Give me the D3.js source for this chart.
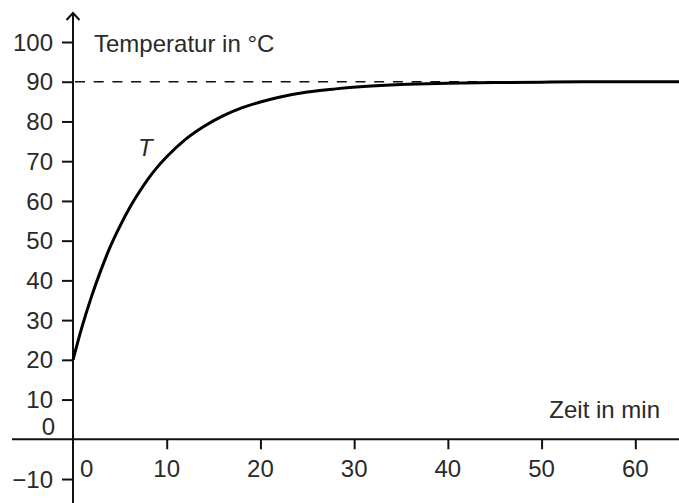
<!DOCTYPE html>
<html>
<head>
<meta charset="utf-8">
<script src="https://cdn.jsdelivr.net/npm/d3@7"></script>
<style>
  body { margin: 0; background: #fff; }
  text { font-family: "Liberation Sans", Arial, sans-serif; font-size: 24px; fill: #2a2a2a; }
</style>
</head>
<body>
<div id="graf"></div>
<script>
// Datos
const tiempos = [0, 1, 2, 3, 4, 5, 6, 7, 8, 9, 10, 12, 14, 16, 18, 20, 22, 25, 28, 31, 35, 40, 45, 50, 55, 60, 65]
const temperaturas = [20, 28.6, 36.1, 42.7, 48.6, 53.6, 58.1, 62.0, 65.5, 68.5, 71.1, 75.5, 78.8, 81.4, 83.4, 84.9, 86.1, 87.4, 88.2, 88.8, 89.3, 89.6, 89.8, 89.9, 90, 90, 90]
const ticksX = [10, 20, 30, 40, 50, 60]
const ticksY = [-10, 10, 20, 30, 40, 50, 60, 70, 80, 90, 100]
const limite = 90

const ancho = 679, alto = 503

const svg = d3.select('#graf').append('svg')
  .attr('width', ancho)
  .attr('height', alto)

// Escalas
const x = d3.scaleLinear().domain([0, 60]).range([73, 635.3])
const y = d3.scaleLinear().domain([0, 100]).range([439.3, 42])

// Linea discontinua en 90
svg.append('line')
  .attr('x1', x(0)).attr('x2', ancho)
  .attr('y1', y(limite)).attr('y2', y(limite))
  .attr('stroke', '#111').attr('stroke-width', 1.3)
  .attr('stroke-dasharray', '10,8.7')
  .attr('stroke-dashoffset', -2)

// Eje X
const ejeX = svg.append('g')
  .attr('transform', `translate(0, ${ y(0) })`)
  .call(d3.axisBottom(x).tickValues(ticksX).tickSize(10).tickFormat(''))
ejeX.select('.domain').remove()
ejeX.selectAll('line').attr('stroke', '#111').attr('stroke-width', 2)
svg.append('line')
  .attr('x1', 12).attr('x2', ancho)
  .attr('y1', y(0)).attr('y2', y(0))
  .attr('stroke', '#111').attr('stroke-width', 2)
svg.append('g').selectAll('text')
  .data(ticksX).join('text')
  .attr('x', d => x(d)).attr('y', 477)
  .attr('text-anchor', 'middle')
  .text(d => d)
svg.append('text').attr('x', 80).attr('y', 477).text('0')

// Eje Y
const ejeY = svg.append('g')
  .attr('transform', `translate(${ x(0) }, 0)`)
  .call(d3.axisLeft(y).tickValues(ticksY).tickSize(11).tickFormat(''))
ejeY.select('.domain').remove()
ejeY.selectAll('line').attr('stroke', '#111').attr('stroke-width', 2)
svg.append('line')
  .attr('x1', x(0)).attr('x2', x(0))
  .attr('y1', 13).attr('y2', alto)
  .attr('stroke', '#111').attr('stroke-width', 2)
svg.append('path')
  .attr('d', `M${ x(0) - 6.5 },${ 20 } L${ x(0) },${ 13 } L${ x(0) + 6.5 },${ 20 }`)
  .attr('fill', 'none').attr('stroke', '#111').attr('stroke-width', 2)
svg.append('g').selectAll('text')
  .data(ticksY).join('text')
  .attr('x', 53).attr('y', d => y(d))
  .attr('dy', '0.36em')
  .attr('text-anchor', 'end')
  .text(d => d < 0 ? '\u2212' + Math.abs(d) : d)
svg.append('text').attr('x', 55).attr('y', 435).attr('text-anchor', 'end').text('0')

// Titulos
svg.append('text').attr('x', 94).attr('y', 52).text('Temperatur in °C')
svg.append('text').attr('x', 660).attr('y', 418).attr('text-anchor', 'end').text('Zeit in min')
svg.append('text').attr('x', 138).attr('y', 156).style('font-style', 'italic').text('T')

// Curva T
const datos = tiempos.map((t, i) => ({ t: t, temp: temperaturas[i] }))
svg.append('path')
  .datum(datos)
  .attr('fill', 'none')
  .attr('stroke', '#000')
  .attr('stroke-width', 3)
  .attr('d', d3.line()
    .x(d => x(d.t))
    .y(d => y(d.temp))
    .curve(d3.curveMonotoneX))
</script>
</body>
</html>
